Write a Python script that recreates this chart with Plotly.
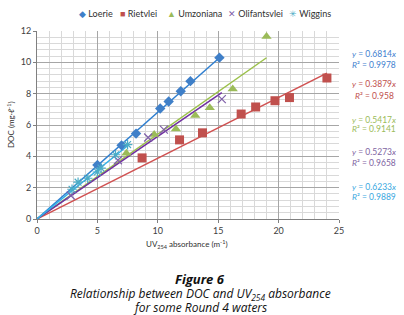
import plotly.graph_objects as go

# ---- data ----
series_names = ["Loerie", "Rietvlei", "Umzoniana", "Olifantsvlei", "Wiggins"]

loerie_x = [5.0, 7.0, 8.2, 10.2, 10.9, 11.9, 12.7, 15.1]
loerie_y = [3.45, 4.7, 5.45, 7.05, 7.5, 8.15, 8.8, 10.3]

rietvlei_x = [8.7, 11.8, 13.7, 16.9, 18.1, 19.7, 20.9, 24.0]
rietvlei_y = [3.9, 5.05, 5.5, 6.7, 7.15, 7.55, 7.75, 9.0]

umzoniana_x = [7.4, 9.7, 11.5, 13.1, 14.3, 16.2, 19.0]
umzoniana_y = [4.2, 5.4, 5.75, 6.6, 7.1, 8.3, 11.65]

olifantsvlei_x = [2.8, 6.7, 9.2, 10.5, 15.3]
olifantsvlei_y = [1.5, 3.75, 5.2, 5.7, 7.65]

wiggins_x = [2.9, 3.4, 4.2, 5.0, 5.3, 6.5, 7.5]
wiggins_y = [1.9, 2.35, 2.6, 3.0, 3.25, 4.1, 4.75]

slopes = [0.6814, 0.3879, 0.5417, 0.5273, 0.6233]
r2_values = ["0.9978", "0.958", "0.9141", "0.9658", "0.9889"]

x_ticks = [0, 5, 10, 15, 20, 25]
y_ticks = [0, 2, 4, 6, 8, 10, 12]

# ---- styles ----
marker_colors = ["#3F7FC8", "#C0504D", "#9BBB59", "#7F5FA8", "#4BACC6"]
line_colors = ["#2F7FD0", "#D05050", "#9BC04A", "#7030A0", "#33B0E8"]
text_colors = ["#3F7FCF", "#C0504D", "#9BBB59", "#8064A2", "#3AA8E0"]
symbols = ["diamond", "square", "triangle-up", "x-thin-open", "asterisk-open"]
sizes = [8, 9, 9, 8, 8]
legend_glyphs = ["◆", "■", "▲", "✕", "✳"]

xs = [loerie_x, rietvlei_x, umzoniana_x, olifantsvlei_x, wiggins_x]
ys = [loerie_y, rietvlei_y, umzoniana_y, olifantsvlei_y, wiggins_y]

L, R, T, B = 37, 65, 31, 96
W, H = 404, 315
PW, PH = W - L - R, H - T - B


def px(xp):
    return (xp - L) / PW


def py(yp):
    return (H - B - yp) / PH


fig = go.Figure()

# trendlines (through origin, to max x)
for i in range(5):
    xm = max(xs[i])
    fig.add_trace(go.Scatter(
        x=[0, xm], y=[0, slopes[i] * xm], mode="lines",
        line=dict(color=line_colors[i], width=1.5),
        showlegend=False, hoverinfo="skip"))

for i in range(5):
    mk = dict(symbol=symbols[i], size=sizes[i], color=marker_colors[i])
    if "open" in symbols[i]:
        mk["line"] = dict(color=marker_colors[i], width=1.2)
    fig.add_trace(go.Scatter(
        x=xs[i], y=ys[i], mode="markers", name=series_names[i],
        marker=mk, showlegend=False))

font_family = "Lato, 'Open Sans', sans-serif"

# legend as text
leg_x = [77, 118, 165, 226, 287]
for i in range(5):
    fig.add_annotation(
        xref="paper", yref="paper", x=px(leg_x[i]), y=py(14),
        text=f"<span style='color:{marker_colors[i]}'>{legend_glyphs[i]}</span> {series_names[i]}",
        showarrow=False, xanchor="left", yanchor="middle",
        font=dict(size=9, color="#303030", family=font_family))

# equation annotations
eq_y = [(54, 65), (84, 96), (120, 129), (152, 163), (187, 197)]
for i in range(5):
    for j, txt in enumerate([
            f"<i>y</i> = {slopes[i]:.4f}<i>x</i>",
            f"<i>R</i>² = {r2_values[i]}"]):
        fig.add_annotation(
            xref="paper", yref="paper",
            x=px(374), y=py(eq_y[i][j]),
            text=txt, showarrow=False, xanchor="center", yanchor="middle",
            font=dict(size=8.5, color=text_colors[i], family=font_family))

# caption
cap = [("<b><i>Figure 6</i></b>", 279, 13),
       ("<i>Relationship between DOC and UV<sub>254</sub> absorbance</i>", 294, 12),
       ("<i>for some Round 4 waters</i>", 307, 12)]
for txt, yp, fs in cap:
    fig.add_annotation(
        xref="paper", yref="paper",
        x=px(200), y=py(yp),
        text=txt, showarrow=False, xanchor="center", yanchor="middle",
        font=dict(size=fs, color="#111111", family="'Open Sans', sans-serif"))

# axis titles
fig.add_annotation(xref="paper", yref="paper", x=px(187), y=py(244),
                   text="UV<sub>254</sub> absorbance (m<sup>-1</sup>)",
                   showarrow=False, xanchor="center", yanchor="middle",
                   font=dict(size=8, color="#303030", family=font_family))
fig.add_annotation(xref="paper", yref="paper", x=px(10), y=py(125),
                   text="DOC (mg·ℓ<sup>-1</sup>)", textangle=-90,
                   showarrow=False, xanchor="center", yanchor="middle",
                   font=dict(size=8, color="#303030", family=font_family))

fig.update_layout(
    width=W, height=H,
    margin=dict(l=L, r=R, t=T, b=B, autoexpand=False),
    paper_bgcolor="white", plot_bgcolor="white",
    font=dict(family=font_family, size=9, color="#404040"),
    showlegend=False,
    xaxis=dict(range=[0, 25], tickvals=x_ticks, showgrid=True,
               gridcolor="#A6A6A6", gridwidth=1,
               minor=dict(dtick=1, showgrid=True, gridcolor="#D9D9D9", gridwidth=1),
               showline=True, linecolor="#808080", linewidth=1,
               zeroline=False, ticks="outside", ticklen=3, tickcolor="#808080",
               tickfont=dict(size=9), automargin=False),
    yaxis=dict(range=[0, 12], tickvals=y_ticks, showgrid=True,
               gridcolor="#A6A6A6", gridwidth=1,
               minor=dict(dtick=0.4, showgrid=True, gridcolor="#D9D9D9", gridwidth=1),
               showline=True, linecolor="#808080", linewidth=1,
               zeroline=False, ticks="outside", ticklen=3, tickcolor="#808080",
               tickfont=dict(size=9), automargin=False),
)

fig.write_html("out.html", config={"displayModeBar": False},
               post_script="document.body.style.margin='0';document.body.style.overflow='hidden';")
